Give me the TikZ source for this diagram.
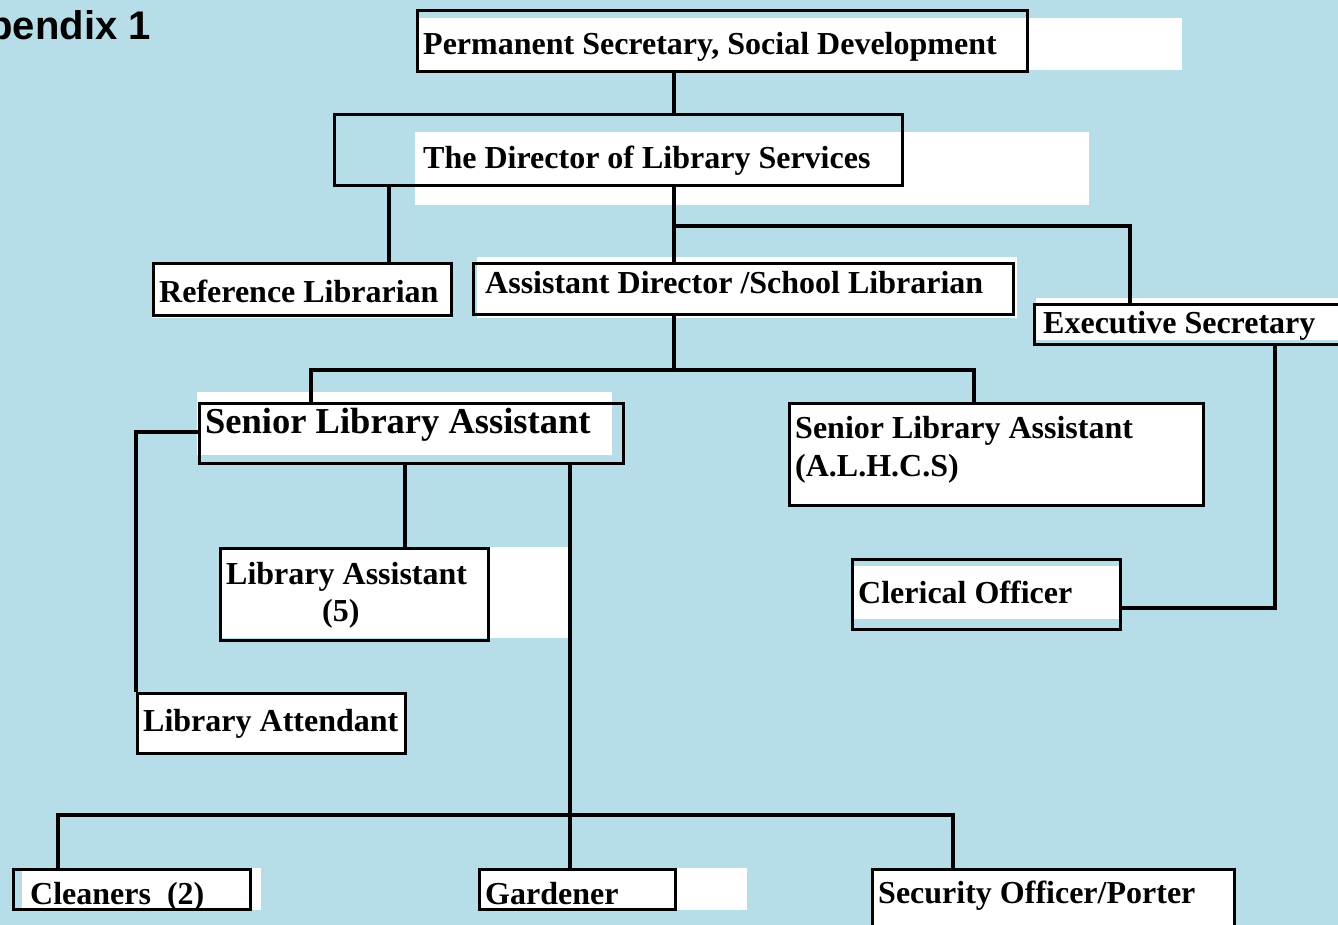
\documentclass[tikz,border=0pt]{standalone}
\usepackage{fontspec}
\setmainfont{Liberation Serif}
\newfontfamily\arialfont{Liberation Sans}
\definecolor{bgblue}{RGB}{183,221,232}
\begin{document}
\begin{tikzpicture}[x=1pt,y=-1pt,
  conn/.style={line width=3.1pt},
  obox/.style={draw=black, line width=2.8pt, inner sep=0pt, anchor=north west},
  lbl/.style={anchor=base west, inner sep=0pt, font=\bfseries\fontsize{32}{38}\selectfont},
  biglbl/.style={lbl, font=\bfseries\fontsize{36.5}{42}\selectfont},
  ]
\useasboundingbox (0,0) rectangle (1338,925);
\fill[bgblue] (0,0) rectangle (1338,925);

% title
\node[anchor=base east, inner sep=0pt, font=\arialfont\bfseries\fontsize{40}{46}\selectfont] (title) at (151,40) {Appendix 1};

% white text backgrounds
\fill[white] (416,18) rectangle (1182,70);
\fill[white] (415,132) rectangle (1089,205);
\fill[white] (152,262) rectangle (452,318);
\fill[white] (477,257) rectangle (1017,318);
\fill[white] (1036,298) rectangle (1345,340);
\fill[white] (197,392) rectangle (612,455);
\fill[white] (219,547) rectangle (569,638);
\fill[white] (851,566) rectangle (1120,619);
\fill[white] (22,868) rectangle (261,910);
\fill[white] (478,868) rectangle (747,910);
\fill[white] (871,868) rectangle (1236,925);

% column / junction coordinates
\coordinate (x674) at (674,0);
\coordinate (x389) at (389,0);
\coordinate (x1130) at (1130,0);
\coordinate (x311) at (311,0);
\coordinate (x974) at (974,0);
\coordinate (x405) at (405,0);
\coordinate (x570) at (570,0);
\coordinate (x58) at (58,0);
\coordinate (x953) at (953,0);
\coordinate (jA) at (674,226);
\coordinate (jB) at (674,370);
\coordinate (jC) at (570,815);
\coordinate (kL) at (136,432);
\coordinate (kC) at (1275,608);

% boxes
\node[obox, minimum width=610pt, minimum height=61pt] (ps) at (416,9) {};
\node[obox, minimum width=568pt, minimum height=71pt] (dir) at (333,113) {};
\node[obox, minimum width=298pt, minimum height=52pt] (ref) at (152,262) {};
\node[obox, minimum width=540pt, minimum height=51pt] (ad) at (472,262) {};
\node[obox, minimum width=312pt, minimum height=40pt] (es) at (1033,303) {};
\node[obox, minimum width=424pt, minimum height=60pt] (sla) at (198,402) {};
\node[obox, fill=white, minimum width=414pt, minimum height=102pt] (sla2) at (788,402) {};
\node[obox, minimum width=268pt, minimum height=92pt] (la) at (219,547) {};
\node[obox, fill=white, minimum width=268pt, minimum height=60pt] (latt) at (136,692) {};
\node[obox, minimum width=268pt, minimum height=70pt] (co) at (851,558) {};
\node[obox, minimum width=237pt, minimum height=40pt] (cl) at (12,868) {};
\node[obox, minimum width=196pt, minimum height=40pt] (gd) at (478,868) {};
\node[obox, minimum width=362pt, minimum height=67pt] (so) at (871,868) {};

% connectors
\draw[conn] (ps.south -| x674) -- (dir.north -| x674);
\draw[conn] (dir.south -| x674) -- (ad.north -| x674);
\draw[conn] (jA) -- (jA -| x1130) -- (es.north -| x1130);
\draw[conn] (dir.south -| x389) -- (ref.north -| x389);
\draw[conn] (ad.south -| x674) -- (jB);
\draw[conn] (sla.north -| x311) |- (jB) -| (sla2.north -| x974);
\draw[conn] (kL -| sla.west) -- (kL) -- (latt.north -| kL);
\draw[conn] (sla.south -| x405) -- (la.north -| x405);
\draw[conn] (sla.south -| x570) -- (jC) -- (gd.north -| x570);
\draw[conn] (cl.north -| x58) |- (jC) -| (so.north -| x953);
\draw[conn] (es.south -| kC) -- (kC) -- (kC -| co.east);

% labels
\node[lbl] (tps) at (423,55) {Permanent Secretary, Social Development};
\node[lbl] (tdir) at (423,169) {The Director of Library Services};
\node[lbl] (tref) at (159,302) {Reference Librarian};
\node[lbl] (tad) at (485,294) {Assistant Director /School Librarian};
\node[lbl] (tes) at (1043,333) {Executive Secretary};
\node[biglbl] (tsla) at (205,433) {Senior Library Assistant};
\node[lbl] (tsla2a) at (795,438) {Senior Library Assistant};
\node[lbl] (tsla2b) at (795,476) {(A.L.H.C.S)};
\node[lbl] (tla1) at (226,584) {Library Assistant};
\node[lbl] (tla2) at (322,621) {(5)};
\node[lbl] (tlatt) at (143,731) {Library Attendant};
\node[lbl] (tco) at (858,603) {Clerical Officer};
\node[lbl] (tcl) at (30,904) {Cleaners~~(2)};
\node[lbl] (tgd) at (485,904) {Gardener};
\node[lbl] (tso) at (878,903) {Security Officer/Porter};
\end{tikzpicture}
\end{document}
